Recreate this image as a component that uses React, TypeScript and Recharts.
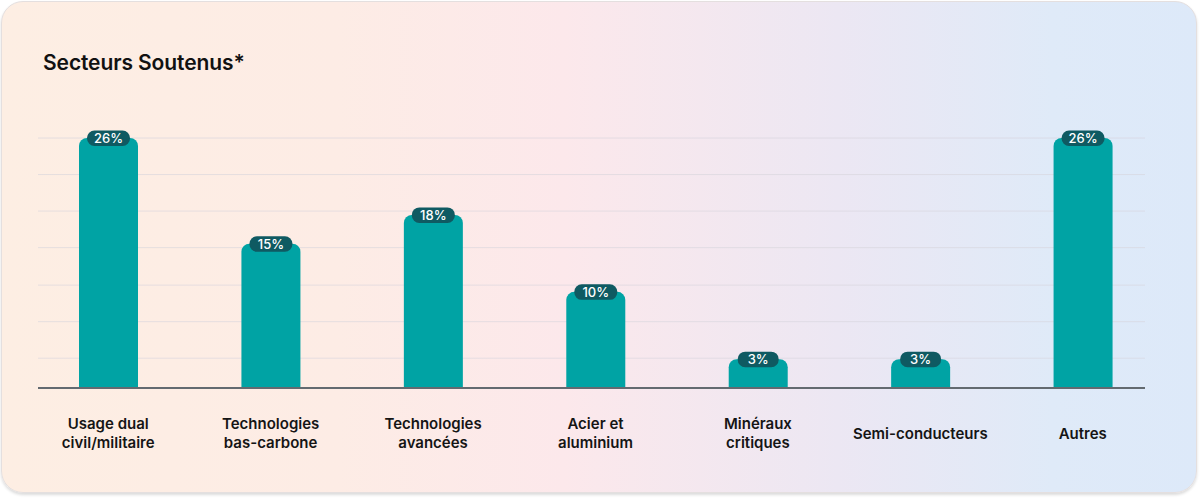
import { BarChart, Bar, XAxis, YAxis, CartesianGrid, LabelList } from "recharts";

const categories = [
    "Usage dual\ncivil/militaire",
    "Technologies\nbas-carbone",
    "Technologies\navancées",
    "Acier et\naluminium",
    "Minéraux\ncritiques",
    "Semi-conducteurs",
    "Autres"
];
const shares = [26, 15, 18, 10, 3, 3, 26];
const gridTicks = [3.1, 6.9, 10.7, 14.6, 18.4, 22.2, 26];

const data = categories.map((name, i) => ({ name, value: shares[i] }));

const FONT = "Inter, 'Noto Sans', sans-serif";

function CategoryTick(props: any) {
    const { x, y, payload } = props;
    const lines = String(payload.value).split("\n");
    // baseline of first line, two-line labels sit a bit higher
    const start = lines.length > 1 ? 41 : 50.5;
    return (
        <text x={x} y={y} textAnchor="middle" fontFamily={FONT} fontSize={15} fontWeight={600} fill="#151515">
            {lines.map((l, i) => (
                <tspan key={i} x={x} y={y + start + i * 19}>{l}</tspan>
            ))}
        </text>
    );
}

function Pill(props: any) {
    const { x, y, width, value } = props;
    const cx = x + width / 2;
    const w = String(value).length > 1 ? 43 : 41;
    return (
        <g>
            <rect x={cx - w / 2} y={y - 7.5} width={w} height={15.5} rx={7.5} fill="#0f5a62" />
            <text x={cx} y={y + 4.8} textAnchor="middle" fontFamily={FONT} fontSize={13} fontWeight={500} fill="#fff">
                {value}%
            </text>
        </g>
    );
}

export default function App() {
    return (
        <div style={{ position: "relative", width: 1200, height: 498 }}>
            <style>{"body{margin:0}"}</style>
            <div
                style={{
                    position: "absolute",
                    left: 1,
                    top: 1,
                    width: 1196,
                    height: 492,
                    boxSizing: "border-box",
                    borderRadius: 22,
                    border: "1px solid #e4dfdf",
                    boxShadow: "0 2px 3px rgba(0,0,0,0.14)",
                    background: "linear-gradient(90deg, #fdeee3 0%, #fdece5 28%, #fce8eb 47%, #ece7f3 70%, #dfeaf8 88%, #dde9f9 100%)"
                }}
            />
            <div
                style={{
                    position: "absolute",
                    left: 43,
                    top: 50,
                    fontFamily: FONT,
                    fontSize: 21,
                    fontWeight: 600,
                    color: "#111",
                    letterSpacing: -0.1
                }}
            >
                Secteurs Soutenus*
            </div>
            <div style={{ position: "absolute", left: 0, top: 0 }}>
                <BarChart
                    width={1200}
                    height={498}
                    data={data}
                    margin={{ top: 138, right: 55, bottom: 40, left: 38 }}
                >
                    <CartesianGrid vertical={false} stroke="#d6d4dc" strokeOpacity={0.6} />
                    <XAxis
                        dataKey="name"
                        height={70}
                        interval={0}
                        tickLine={false}
                        tickSize={0}
                        tickMargin={0}
                        padding={{ left: -11, right: -19 }}
                        axisLine={{ stroke: "#636a70", strokeWidth: 2 }}
                        tick={<CategoryTick />}
                    />
                    <YAxis hide domain={[0, 26]} ticks={gridTicks} />
                    <Bar dataKey="value" fill="#00a3a4" barSize={59} radius={[8, 8, 0, 0]} isAnimationActive={false}>
                        <LabelList dataKey="value" content={<Pill />} />
                    </Bar>
                </BarChart>
            </div>
        </div>
    );
}
